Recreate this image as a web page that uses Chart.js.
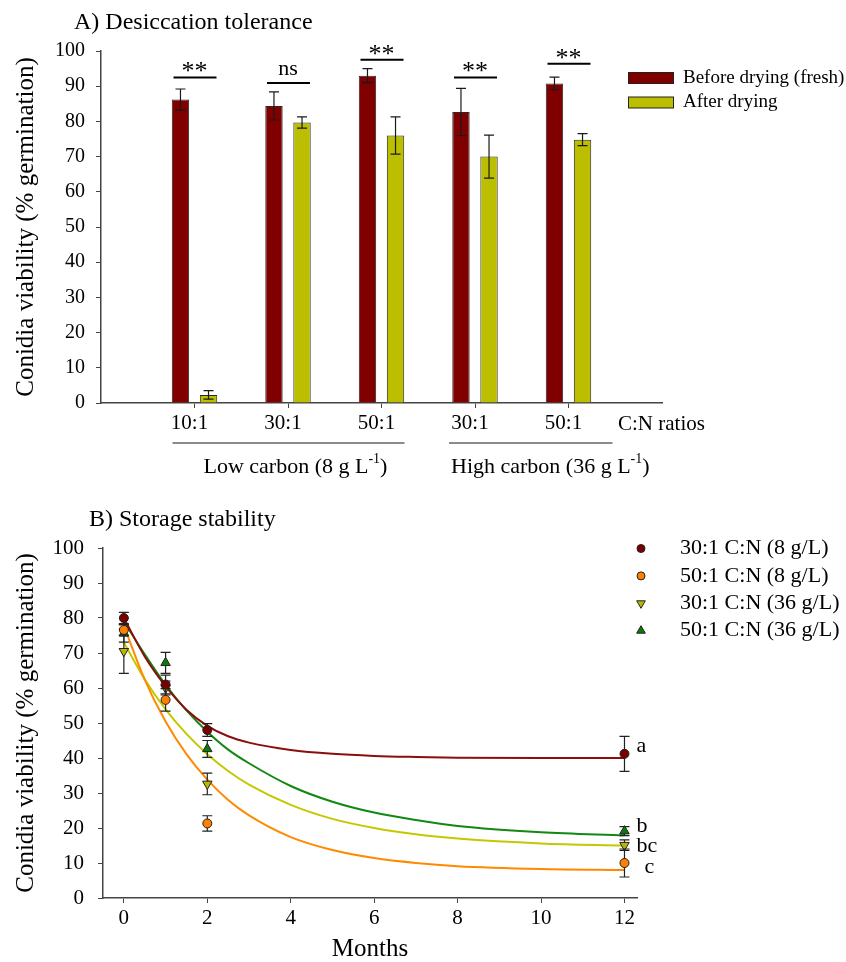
<!DOCTYPE html>
<html>
<head>
<meta charset="utf-8">
<script src="https://cdn.jsdelivr.net/npm/chart.js@4/dist/chart.umd.min.js"></script>
<style>
  body { margin: 0; background: #fff; overflow: hidden; }
  #wrap { position: relative; width: 846px; height: 962px; }
  canvas { position: absolute; left: 0; }
  #chartA { top: 0; }
  #chartB { top: 490px; }
</style>
</head>
<body>
<div id="wrap">
  <canvas id="chartA" width="846" height="490"></canvas>
  <canvas id="chartB" width="846" height="472"></canvas>
</div>
<script>
// A) Desiccation tolerance - empty slots at both ends keep the axis padding
const ratioLabels = ['', '10:1', '30:1', '50:1', '30:1', '50:1', ''];
const freshViability = [null, 86.2, 84.4, 93.0, 82.7, 90.8, null];
const freshErr = [null, 3.0, 4.0, 2.0, 6.7, 1.8, null];
const driedViability = [null, 2.3, 79.7, 76.0, 70.0, 74.8, null];
const driedErr = [null, 1.2, 1.6, 5.3, 6.1, 1.7, null];
const sigText = [null, '**', 'ns', '**', '**', '**', null];
const sigLevel = [null, 92.5, 90.9, 97.5, 92.5, 96.4, null];

// B) Storage stability
const months = [0, 1, 2, 12];
const cn30Low = [80.0, 61.0, 48.0, 41.2];
const cn30LowErr = [1.6, 2.7, 1.8, 5.0];
const cn50Low = [76.6, 56.6, 21.3, 10.0];
const cn50LowErr = [1.5, 3.2, 2.2, 4.0];
const cn30High = [70.5, 60.0, 32.6, 15.1];
const cn30HighErr = [6.3, 2.0, 3.1, 1.5];
const cn50High = [75.6, 67.2, 42.6, 19.1];
const cn50HighErr = [2.5, 3.0, 2.4, 1.3];

// fitted curves
const fitMonths = [0, 0.5, 1, 1.5, 2, 2.5, 3, 4, 5, 6, 7, 8, 10, 12];
const fit30Low = [80.0, 69.0, 60.5, 53.8, 49.2, 46.2, 44.4, 42.3, 41.2, 40.6, 40.3, 40.1, 40.0, 40.0];
const fit50Low = [77.8, 62.4, 50.4, 41.1, 33.8, 28.0, 23.6, 17.4, 13.7, 11.4, 10.0, 9.1, 8.3, 8.0];
const fit30High = [73.0, 62.5, 53.9, 46.9, 41.1, 36.3, 32.4, 26.6, 22.6, 20.0, 18.2, 17.0, 15.6, 15.0];
const fit50High = [79.0, 69.6, 60.9, 53.6, 47.5, 42.4, 38.5, 32.0, 27.5, 24.4, 22.3, 20.6, 18.8, 17.9];

const groupLetters = ['a', 'c', 'bc', 'b'];
const letterLevel = [43.4, 8.8, 14.8, 20.5];
const monthTicks = [0, 2, 4, 6, 8, 10, 12];

const serif = "'Liberation Serif', 'Times New Roman', serif";
const axisGrey = '#444';

function xy(xs, ys) {
    return xs.map((v, i) => ({ x: v, y: ys[i] }));
}

function errorBar(ctx, x, top, bot, half) {
    ctx.beginPath();
    ctx.moveTo(x, top); ctx.lineTo(x, bot);
    ctx.moveTo(x - half, top); ctx.lineTo(x + half, top);
    ctx.moveTo(x - half, bot); ctx.lineTo(x + half, bot);
    ctx.stroke();
}

// text with a superscript part, e.g. "g L-1"
function supText(ctx, x, y, main, sup, tail, size) {
    ctx.font = size + 'px ' + serif;
    ctx.fillText(main, x, y);
    let w = ctx.measureText(main).width;
    ctx.font = Math.round(size * 0.62) + 'px ' + serif;
    ctx.fillText(sup, x + w, y - size * 0.33);
    w += ctx.measureText(sup).width;
    ctx.font = size + 'px ' + serif;
    ctx.fillText(tail, x + w, y);
}

// error bars on top of the bars
const errorBarsA = {
    id: 'errorBarsA',
    afterDatasetsDraw(chart) {
        const ctx = chart.ctx, y = chart.scales.y;
        [freshErr, driedErr].forEach((errs, di) => {
            const vals = chart.data.datasets[di].data;
            chart.getDatasetMeta(di).data.forEach((bar, i) => {
                if (vals[i] == null) return;
                ctx.save();
                ctx.strokeStyle = '#1a1a1a';
                ctx.lineWidth = 1.2;
                errorBar(ctx, bar.x, y.getPixelForValue(vals[i] + errs[i]), y.getPixelForValue(vals[i] - errs[i]), 5);
                ctx.restore();
            });
        });
    }
};

// title, significance marks, legend and group brackets for panel A
const decorA = {
    id: 'decorA',
    afterDraw(chart) {
        const { ctx, scales: { x, y } } = chart;
        ctx.save();
        ctx.fillStyle = '#000';
        ctx.textAlign = 'left';
        ctx.textBaseline = 'alphabetic';
        ctx.font = '24px ' + serif;
        ctx.fillText('A) Desiccation tolerance', 74, 29);

        sigText.forEach((t, i) => {
            if (!t) return;
            const cx = x.getPixelForValue(i);
            const ly = y.getPixelForValue(sigLevel[i]);
            ctx.strokeStyle = '#000';
            ctx.lineWidth = 2;
            ctx.beginPath();
            ctx.moveTo(cx - 21, ly); ctx.lineTo(cx + 22, ly);
            ctx.stroke();
            ctx.textAlign = 'center';
            if (t === 'ns') {
                ctx.font = '22px ' + serif;
                ctx.fillText(t, cx, ly - 8);
            } else {
                ctx.font = '26px ' + serif;
                ctx.fillText(t, cx, ly + 2);
            }
        });

        // legend
        ctx.textAlign = 'left';
        ctx.textBaseline = 'middle';
        chart.data.datasets.forEach((ds, i) => {
            const ry = 78 + i * 24.5;
            ctx.fillStyle = ds.backgroundColor;
            ctx.fillRect(628, ry - 5.5, 45, 11);
            ctx.strokeStyle = '#222';
            ctx.lineWidth = 1;
            ctx.strokeRect(628.5, ry - 5.5, 45, 11);
            ctx.fillStyle = '#000';
            ctx.font = '19px ' + serif;
            ctx.fillText(ds.label, 683, ry);
        });

        ctx.font = '21px ' + serif;
        ctx.fillText('C:N ratios', 618, 424);

        // carbon level brackets
        ctx.strokeStyle = '#666';
        ctx.lineWidth = 1.5;
        ctx.beginPath();
        ctx.moveTo(x.getPixelForValue(1) - 22, 443); ctx.lineTo(x.getPixelForValue(3) + 23, 443);
        ctx.moveTo(x.getPixelForValue(4) - 26, 443); ctx.lineTo(x.getPixelForValue(5) + 44, 443);
        ctx.stroke();
        supText(ctx, x.getPixelForValue(1) + 9, 467, 'Low carbon (8 g L', '-1', ')', 22);
        supText(ctx, x.getPixelForValue(4) - 24, 467, 'High carbon (36 g L', '-1', ')', 22);
        ctx.restore();
    }
};

new Chart(document.getElementById('chartA'), {
    type: 'bar',
    data: {
        labels: ratioLabels,
        datasets: [{
            label: 'Before drying (fresh)',
            data: freshViability,
            backgroundColor: '#800000',
            borderColor: '#2a2a2a',
            borderWidth: 1,
            categoryPercentage: 0.6,
            barPercentage: 0.62
        }, {
            label: 'After drying',
            data: driedViability,
            backgroundColor: '#bbbf00',
            borderColor: '#2a2a2a',
            borderWidth: 1,
            categoryPercentage: 0.6,
            barPercentage: 0.62
        }]
    },
    options: {
        responsive: false,
        animation: false,
        layout: { padding: { left: 0, right: 184, top: 51, bottom: 0 } },
        plugins: { legend: { display: false }, tooltip: { enabled: false } },
        scales: {
            x: {
                offset: false,
                grid: {
                    offset: false,
                    drawOnChartArea: false,
                    tickLength: 5,
                    tickColor: c => (c.index === 0 || c.index === ratioLabels.length - 1) ? 'rgba(0,0,0,0)' : axisGrey
                },
                border: { color: axisGrey, width: 1.5 },
                ticks: { color: '#000', font: { family: serif, size: 21 }, padding: 3, labelOffset: -5, autoSkip: false, maxRotation: 0 },
                afterFit: s => { s.height = 87; }
            },
            y: {
                min: 0,
                max: 100,
                ticks: { stepSize: 10, color: '#000', font: { family: serif, size: 20 }, padding: 11 },
                grid: { drawOnChartArea: false, tickLength: 5, color: axisGrey },
                border: { color: axisGrey, width: 1.5 },
                title: {
                    display: true,
                    text: 'Conidia viability (% germination)',
                    color: '#000',
                    font: { family: serif, size: 25, lineHeight: 1.2 },
                    padding: { top: 11, bottom: 0 }
                },
                afterFit: s => { s.width = 101; }
            }
        }
    },
    plugins: [errorBarsA, decorA]
});

// B) storage stability
const pointSets = [
    { label: '30:1 C:N (8 g/L)', y: cn30Low, err: cn30LowErr, style: 'circle', rot: 0, r: 4.5, color: '#7a0000' },
    { label: '50:1 C:N (8 g/L)', y: cn50Low, err: cn50LowErr, style: 'circle', rot: 0, r: 4.5, color: '#ff8000' },
    { label: '30:1 C:N (36 g/L)', y: cn30High, err: cn30HighErr, style: 'triangle', rot: 180, r: 5.5, color: '#b8b800' },
    { label: '50:1 C:N (36 g/L)', y: cn50High, err: cn50HighErr, style: 'triangle', rot: 0, r: 5.5, color: '#067d06' }
];
const fitSets = [
    { y: fit30Low, color: '#8b0d0d' },
    { y: fit50Low, color: '#ff8a00' },
    { y: fit30High, color: '#c4c800' },
    { y: fit50High, color: '#118811' }
];

// error bars go under each marker set but over the curves
const errorBarsB = {
    id: 'errorBarsB',
    beforeDatasetDraw(chart, args) {
        const p = pointSets[args.index];
        if (!p) return;
        const ctx = chart.ctx, y = chart.scales.y;
        ctx.save();
        ctx.strokeStyle = '#222';
        ctx.lineWidth = 1.2;
        args.meta.data.forEach((pt, i) => {
            errorBar(ctx, pt.x, y.getPixelForValue(p.y[i] + p.err[i]), y.getPixelForValue(p.y[i] - p.err[i]), 5);
        });
        ctx.restore();
    }
};

const decorB = {
    id: 'decorB',
    afterDraw(chart) {
        const { ctx, scales: { x, y }, chartArea } = chart;
        ctx.save();
        ctx.fillStyle = '#000';
        ctx.textAlign = 'left';
        ctx.textBaseline = 'alphabetic';
        ctx.font = '24px ' + serif;
        ctx.fillText('B) Storage stability', 89, 36);

        // legend
        ctx.textBaseline = 'middle';
        pointSets.forEach((p, i) => {
            const ry = chartArea.top + 0.5 + i * 27.4;
            ctx.fillStyle = p.color;
            ctx.strokeStyle = '#222';
            ctx.lineWidth = 1;
            if (Chart.helpers && Chart.helpers.drawPoint) {
                Chart.helpers.drawPoint(ctx, { pointStyle: p.style, rotation: p.rot, radius: p.r - 0.5, borderWidth: 1 }, 641, ry);
            } else {
                ctx.beginPath(); ctx.arc(641, ry, p.r, 0, Math.PI * 2); ctx.fill(); ctx.stroke();
            }
            ctx.fillStyle = '#000';
            ctx.font = '22px ' + serif;
            ctx.fillText(p.label, 680, ry);
        });

        // group letters at 12 months
        const letterDx = [12, 20, 12, 12];
        ctx.font = '22px ' + serif;
        groupLetters.forEach((t, i) => {
            ctx.fillText(t, x.getPixelForValue(12) + letterDx[i], y.getPixelForValue(letterLevel[i]));
        });
        ctx.restore();
    }
};

new Chart(document.getElementById('chartB'), {
    type: 'line',
    data: {
        datasets: pointSets.map(p => ({
            label: p.label,
            data: xy(months, p.y),
            showLine: false,
            pointStyle: p.style,
            pointRotation: p.rot,
            pointRadius: p.r,
            pointBackgroundColor: p.color,
            pointBorderColor: '#222',
            pointBorderWidth: 1
        })).concat(fitSets.map(f => ({
            data: xy(fitMonths, f.y),
            borderColor: f.color,
            borderWidth: 2,
            pointRadius: 0,
            fill: false,
            cubicInterpolationMode: 'monotone'
        })))
    },
    options: {
        responsive: false,
        animation: false,
        layout: { padding: { left: 0, right: 209, top: 58, bottom: 0 } },
        plugins: { legend: { display: false }, tooltip: { enabled: false } },
        scales: {
            x: {
                type: 'linear',
                min: -0.5,
                max: 12.3,
                afterBuildTicks: s => { s.ticks = monthTicks.map(v => ({ value: v })); },
                ticks: { color: '#000', font: { family: serif, size: 21 }, padding: 3, maxRotation: 0 },
                grid: { drawOnChartArea: false, tickLength: 5, color: axisGrey },
                border: { color: axisGrey, width: 1.5 },
                title: {
                    display: true,
                    text: 'Months',
                    color: '#000',
                    font: { family: serif, size: 25, lineHeight: 1 },
                    padding: { top: 0, bottom: 0 }
                },
                afterFit: s => { s.height = 64; }
            },
            y: {
                min: 0,
                max: 100,
                ticks: { stepSize: 10, color: '#000', font: { family: serif, size: 21 }, padding: 14 },
                grid: { drawOnChartArea: false, tickLength: 5, color: axisGrey },
                border: { color: axisGrey, width: 1.5 },
                title: {
                    display: true,
                    text: 'Conidia viability (% germination)',
                    color: '#000',
                    font: { family: serif, size: 25, lineHeight: 1.2 },
                    padding: { top: 11, bottom: 0 }
                },
                afterFit: s => { s.width = 103; }
            }
        }
    },
    plugins: [errorBarsB, decorB]
});
</script>
</body>
</html>
